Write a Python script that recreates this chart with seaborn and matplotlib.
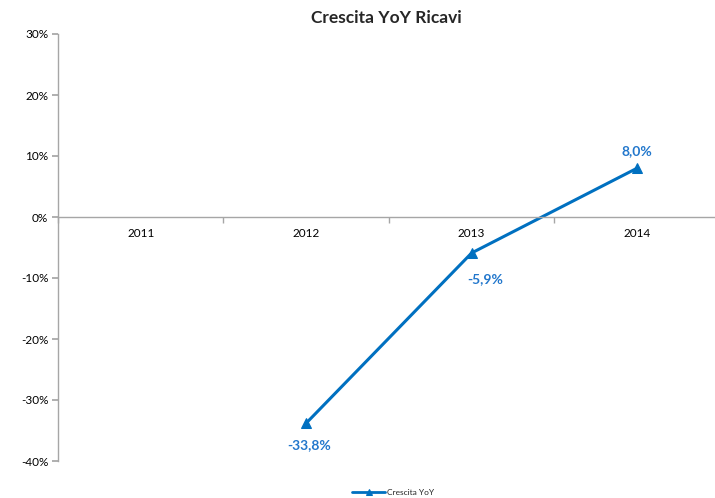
import matplotlib
matplotlib.use("Agg")
import matplotlib.pyplot as plt
import seaborn as sns
import numpy as np
import pandas as pd
from matplotlib.ticker import FuncFormatter, FixedLocator

years = ["2011", "2012", "2013", "2014"]
growth = [np.nan, -33.8, -5.9, 8.0]
label_text = ["", "-33,8%", "-5,9%", "8,0%"]
label_dx = [0, 2, 10, 0]
label_dy = [0, -16, -19, 12]
yticks = [-40, -30, -20, -10, 0, 10, 20, 30]

sns.set_theme(style="white")
plt.rcParams['font.family'] = ['Lato', 'DejaVu Sans']

fig = plt.figure(figsize=(7.15, 4.98), dpi=100)
ax = fig.add_axes([58/715, 1-461/498, (714-58)/715, (461-34)/498])

df = pd.DataFrame({"pos": np.arange(len(years)), "growth": growth})
line_color = "#0070C0"
sns.lineplot(data=df, x="pos", y="growth", ax=ax, color=line_color, linewidth=2.2,
             marker="^", markersize=7, markeredgecolor=line_color, label="Crescita YoY")

for i, (v, t, dx, dy) in enumerate(zip(growth, label_text, label_dx, label_dy)):
    if not np.isnan(v):
        ax.annotate(t, (i, v), xytext=(dx, dy), textcoords="offset points",
                    ha="center", va="center", fontsize=10, fontweight="bold", color="#2277CC")

ax.set_ylim(-40, 30)
ax.set_xlim(-0.5, len(years) - 0.5 - 0.035)
ax.set_yticks(yticks)
ax.yaxis.set_major_formatter(FuncFormatter(lambda v, p: f"{int(v)}%"))
ax.set_xticks(np.arange(len(years)))
ax.set_xticklabels(years)
ax.xaxis.set_minor_locator(FixedLocator(np.arange(len(years) + 1) - 0.5))

ax.spines['bottom'].set_position(('data', 0))
for s in ['top', 'right']:
    ax.spines[s].set_visible(False)
for s in ['left', 'bottom']:
    ax.spines[s].set_color("#A6A6A6")
    ax.spines[s].set_linewidth(1.0)

ax.tick_params(axis='y', which='major', direction='out', length=4, color="#A6A6A6",
               labelsize=8.5, labelcolor="black", pad=3, left=True)
ax.tick_params(axis='x', which='major', length=0, labelsize=8.5, labelcolor="black", pad=8)
ax.tick_params(axis='x', which='minor', direction='out', length=4, color="#A6A6A6", bottom=True)
ax.set_xlabel("")
ax.set_ylabel("")

ax.set_title("Crescita YoY Ricavi", fontsize=12.5, fontweight="bold", pad=8)

leg = ax.legend(loc="center", bbox_to_anchor=(0.511, -0.073), frameon=False,
                fontsize=6, handlelength=4, handletextpad=0.2)
for h in leg.legend_handles:
    h.set_markersize(5)
    h.set_linewidth(2)

fig.savefig("out.png", dpi=100)
